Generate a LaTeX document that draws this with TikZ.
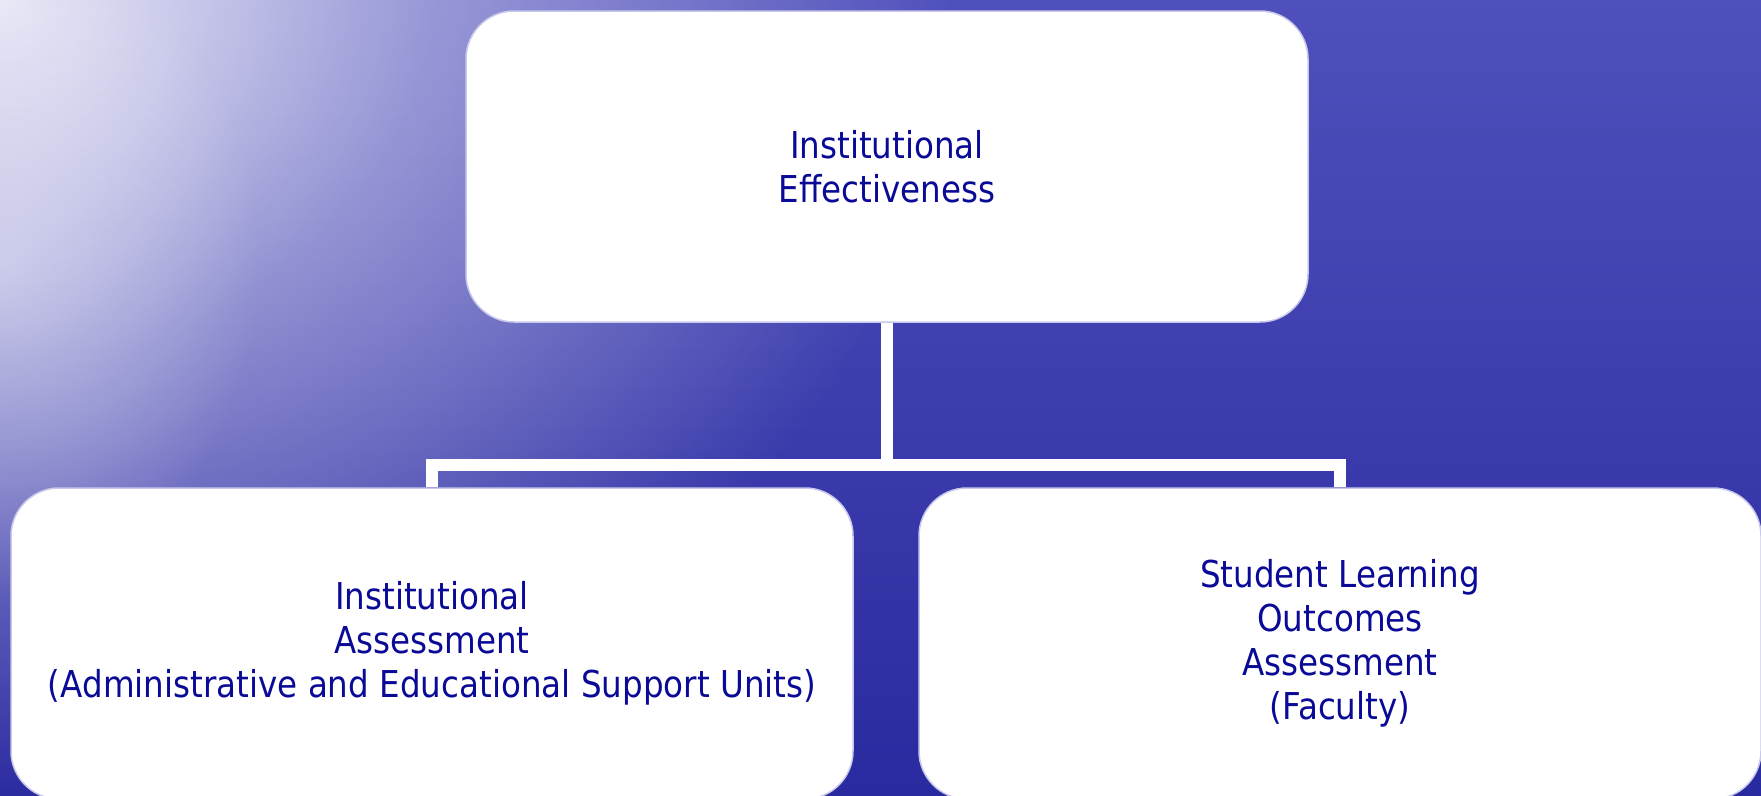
\documentclass[tikz,border=0pt]{standalone}
\usepackage{fontspec}
\newfontfamily\boxfont[FakeStretch=0.88]{DejaVu Sans}
\usetikzlibrary{fadings}
\definecolor{textblue}{RGB}{10,10,150}
\definecolor{edge}{RGB}{200,200,236}
\definecolor{bgtop}{RGB}{80,80,188}
\definecolor{bgbot}{RGB}{42,42,160}
\definecolor{glow}{RGB}{240,240,250}
\pgfdeclareradialshading{glowshade}{\pgfpointorigin}{color(0bp)=(white!95!black); color(5bp)=(white!75!black); color(11.25bp)=(white!45!black); color(17.5bp)=(white!25!black); color(25bp)=(black); color(50bp)=(black)}
\pgfdeclarefading{glowfade}{\pgfuseshading{glowshade}}
\pgfdeclareradialshading{streakshade}{\pgfpointorigin}{color(0bp)=(white!50!black); color(25bp)=(black); color(50bp)=(black)}
\pgfdeclarefading{streakfade}{\pgfuseshading{streakshade}}
\begin{document}
\begin{tikzpicture}[x=1pt,y=-1pt,
  box/.style={draw=edge, line width=1.5pt, fill=white, rounded corners=48pt,
    minimum width=842pt, minimum height=311pt, inner sep=0pt, align=center,
    text=textblue, font=\boxfont\fontsize{37}{44}\selectfont},
  link/.style={draw=white, line width=12pt}]
\useasboundingbox (0,0) rectangle (1761,795);
\begin{scope}
\clip (0,0) rectangle (1761,795);
\shade[top color=bgtop, bottom color=bgbot] (0,0) rectangle (1761,795);
\fill[glow, path fading=glowfade, fit fading=true] (0,0) ellipse (950pt and 800pt);
\fill[glow, path fading=streakfade, fit fading=true] (0,260) ellipse (260pt and 340pt);
\node[box] (top) at (887,166.5) {Institutional\\Effectiveness};
\node[box] (left) at (432,643.5) {Institutional\\Assessment\\(Administrative and Educational Support Units)};
\node[box] (right) at (1340,643.5) {Student Learning\\Outcomes\\Assessment\\(Faculty)};
\coordinate (bar) at (887,465);
\draw[link] (top.south) -- (bar) -| (left.north);
\draw[link] (bar) -| (right.north);
\end{scope}
\end{tikzpicture}
\end{document}
